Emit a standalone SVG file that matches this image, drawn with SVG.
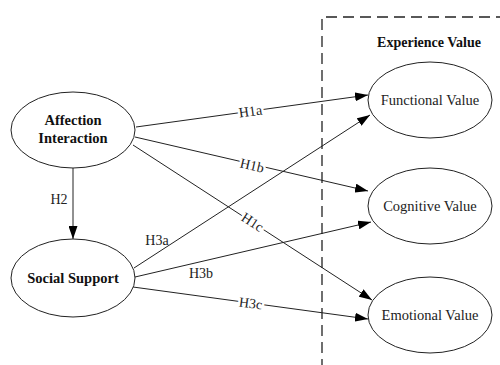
<svg xmlns="http://www.w3.org/2000/svg" width="500" height="365" viewBox="0 0 500 365">
<defs>
<marker id="arr" markerWidth="13" markerHeight="9" refX="13" refY="4.5" orient="auto" markerUnits="userSpaceOnUse">
<path d="M0,0 L13,4.5 L0,9 Z" fill="#000"/>
</marker>
<style>
.node ellipse{fill:#fff;stroke:#222;stroke-width:1}
text{font-family:'Liberation Serif','Times New Roman',Times,serif}
.bt{font-weight:bold;font-size:14.5px;fill:#111;text-anchor:middle}
.nt{font-size:14.5px;fill:#222;text-anchor:middle}
.edges line{stroke:#222;stroke-width:1;marker-end:url(#arr)}
.lbl{font-size:14px;fill:#222;text-anchor:middle}
.halo{paint-order:stroke;stroke:#fff;stroke-width:5px;stroke-linejoin:round}
</style>
</defs>
<rect width="500" height="365" fill="#fff"/>
<g id="experience-box">
<path d="M322,370 V17 H505" fill="none" stroke="#222" stroke-width="1.3" stroke-dasharray="11,6"/>
<text x="429" y="47" class="bt" font-family="Liberation Serif" style="font-size:14px">Experience Value</text>
</g>
<g class="edges" id="connectors">
<line x1="136" y1="127" x2="368" y2="95"/>
<line x1="135" y1="137" x2="368" y2="191"/>
<line x1="133" y1="145" x2="372" y2="300"/>
<line x1="134" y1="268" x2="370" y2="115"/>
<line x1="135" y1="277" x2="371" y2="222"/>
<line x1="133" y1="287" x2="368" y2="319"/>
<line x1="73" y1="168" x2="73" y2="239"/>
<text class="lbl halo" transform="translate(251,116) rotate(-8)">H1a</text>
<text class="lbl halo" transform="translate(251,170) rotate(13)">H1b</text>
<text class="lbl halo" transform="translate(250,226) rotate(33)">H1c</text>
<text class="lbl halo" transform="translate(250,308) rotate(7)">H3c</text>
<text class="lbl" x="157" y="245">H3a</text>
<text class="lbl" x="201" y="278">H3b</text>
<text class="lbl" x="59" y="204">H2</text>
</g>
<g class="node" id="affection-interaction">
<ellipse cx="73" cy="130" rx="62" ry="38"/>
<text class="bt" x="73" y="125">Affection</text>
<text class="bt" x="73" y="143">Interaction</text>
</g>
<g class="node" id="social-support">
<ellipse cx="73" cy="278" rx="62" ry="39"/>
<text class="bt" x="73" y="283">Social Support</text>
</g>
<g class="node" id="functional-value">
<ellipse cx="430" cy="100" rx="62" ry="38"/>
<text class="nt" x="430" y="105">Functional Value</text>
</g>
<g class="node" id="cognitive-value">
<ellipse cx="430" cy="206" rx="62" ry="38"/>
<text class="nt" x="430" y="211">Cognitive Value</text>
</g>
<g class="node" id="emotional-value">
<ellipse cx="430" cy="315" rx="62" ry="38"/>
<text class="nt" x="430" y="320">Emotional Value</text>
</g>
</svg>
